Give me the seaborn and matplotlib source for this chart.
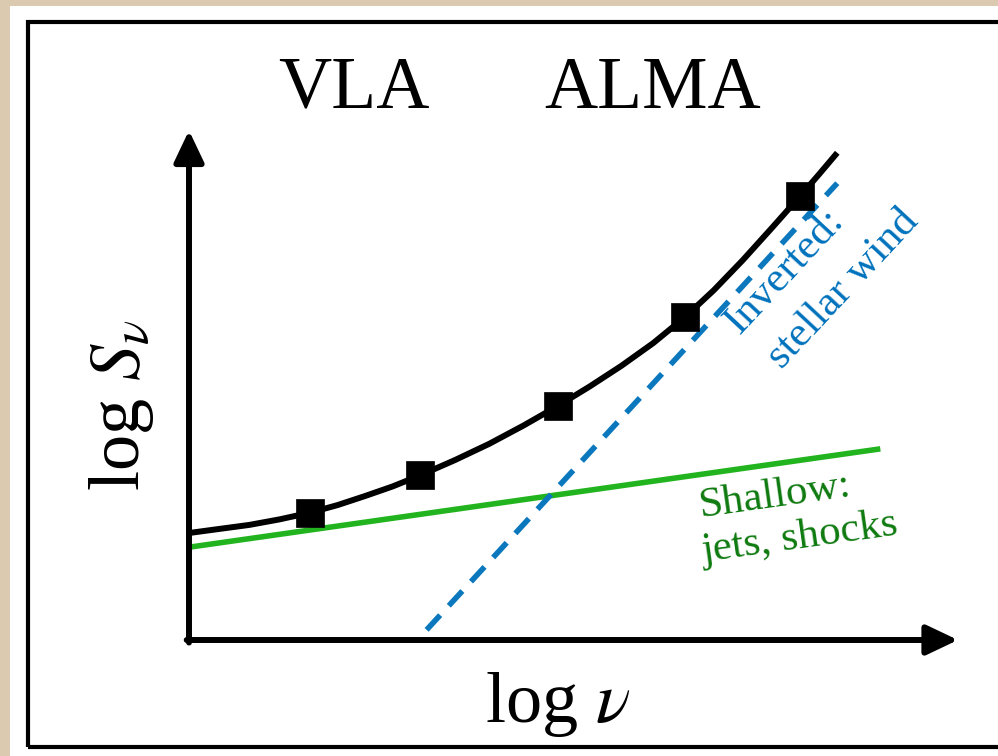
import matplotlib
matplotlib.use("Agg")
import matplotlib.pyplot as plt
from matplotlib.patches import Rectangle
import seaborn as sns
import pandas as pd

# Spectral model (arbitrary log units: x = log nu, y = log S_nu)
curve_x = [0.00, 0.39, 0.785, 1.18, 1.57, 1.93, 2.29, 2.65, 3.01, 3.46, 3.905, 4.35,
           4.80, 5.21, 5.625, 6.04, 6.45, 6.825, 7.20, 7.575, 7.95, 8.19, 8.43]
curve_y = [2.11, 2.19, 2.27, 2.38, 2.51, 2.66, 2.84, 3.03, 3.25, 3.55, 3.87, 4.23,
           4.62, 5.00, 5.41, 5.86, 6.37, 6.90, 7.49, 8.12, 8.76, 9.18, 9.61]

# Observed flux points (VLA and ALMA bands)
obs_x = [1.57, 3.01, 4.80, 6.45, 7.95]
obs_y = [2.51, 3.25, 4.62, 6.37, 8.76]

# Shallow (jets, shocks) and inverted (stellar wind) components
shallow_x = [0.00, 8.99]
shallow_y = [1.83, 3.77]
inverted_x = [3.09, 8.43]
inverted_y = [0.20, 9.01]

sns.set_theme(style="white")
plt.rcParams["font.family"] = ["Liberation Serif", "DejaVu Serif"]
plt.rcParams["mathtext.fontset"] = "stix"
plt.rcParams["text.color"] = "black"

W, H = 998, 756
fig = plt.figure(figsize=(W / 100, H / 100), dpi=100)
fig.patch.set_facecolor("#dccab0")

# white card with a black frame
fig.patches.append(Rectangle((10 / W, 0), 1.0, 1 - 6 / H, transform=fig.transFigure,
                             facecolor="white", edgecolor="none", zorder=0))
fig.patches.append(Rectangle((28 / W, 1 - 747 / H), 1.05, (747 - 22) / H,
                             transform=fig.transFigure, facecolor="none",
                             edgecolor="black", lw=3.0, zorder=1))

# axes: origin at the arrow crossing, tips at x=10 and y=10
x0, y0, x1, y1 = 189, 640, 958, 133
ax = fig.add_axes([x0 / W, 1 - y0 / H, (x1 - x0) / W, (y0 - y1) / H])
ax.set_zorder(5)
ax.set_xlim(0, 10)
ax.set_ylim(0, 10)
ax.set_axis_off()
ax.patch.set_alpha(0)

arrow = dict(arrowstyle="-|>,head_length=0.8,head_width=0.38", lw=4.3,
             color="black", mutation_scale=24, shrinkA=0, shrinkB=0)
ax.annotate("", xy=(10, 0), xytext=(-0.03, 0), arrowprops=arrow, annotation_clip=False)
ax.annotate("", xy=(0, 10.05), xytext=(0, -0.05), arrowprops=arrow, annotation_clip=False)

green_line = "#22b41e"
green_text = "#0f7a10"
blue_line = "#0b78be"
blue_text = "#0072bd"

sns.lineplot(data=pd.DataFrame({"x": shallow_x, "y": shallow_y}), x="x", y="y",
             ax=ax, color=green_line, lw=4.0, zorder=2)
sns.lineplot(data=pd.DataFrame({"x": inverted_x, "y": inverted_y}), x="x", y="y",
             ax=ax, color=blue_line, lw=4.0, zorder=2)
ax.lines[-1].set_dashes((3.6, 2.3))
sns.lineplot(data=pd.DataFrame({"x": curve_x, "y": curve_y}), x="x", y="y",
             ax=ax, color="black", lw=4.3, zorder=3, sort=False)
for ln in ax.lines:
    ln.set_solid_capstyle("butt")
    ln.set_dash_capstyle("butt")
    ln.set_solid_joinstyle("round")
sns.scatterplot(data=pd.DataFrame({"x": obs_x, "y": obs_y}), x="x", y="y", ax=ax,
                marker="s", s=20 ** 2, color="black", edgecolor="black",
                linewidth=0.5, zorder=4)
ax.set_xlim(0, 10)
ax.set_ylim(0, 10)
ax.set_xlabel("")
ax.set_ylabel("")

# component labels
ax.text(6.65, 2.43, "Shallow:", color=green_text, fontsize=31, rotation=8,
        rotation_mode="anchor", ha="left", va="baseline")
ax.text(6.68, 1.54, "jets, shocks", color=green_text, fontsize=31, rotation=8,
        rotation_mode="anchor", ha="left", va="baseline")
ax.text(7.16, 6.02, "Inverted:", color=blue_text, fontsize=31, rotation=47,
        rotation_mode="anchor", ha="left", va="baseline")
ax.text(7.71, 5.32, "stellar wind", color=blue_text, fontsize=31, rotation=47,
        rotation_mode="anchor", ha="left", va="baseline")

# telescope band labels and axis titles
fig.text(354 / W, 1 - 108 / H, "VLA", fontsize=53, ha="center", va="baseline")
fig.text(653 / W, 1 - 108 / H, "ALMA", fontsize=53, ha="center", va="baseline")
fig.text(558 / W, 1 - 722 / H, r"log $\nu$", fontsize=52, ha="center", va="baseline")
fig.text(122 / W, 1 - 405 / H, r"log $S_\nu$", fontsize=52, ha="center", va="center",
         rotation=90)

fig.savefig("out.png", dpi=100, facecolor=fig.get_facecolor())
